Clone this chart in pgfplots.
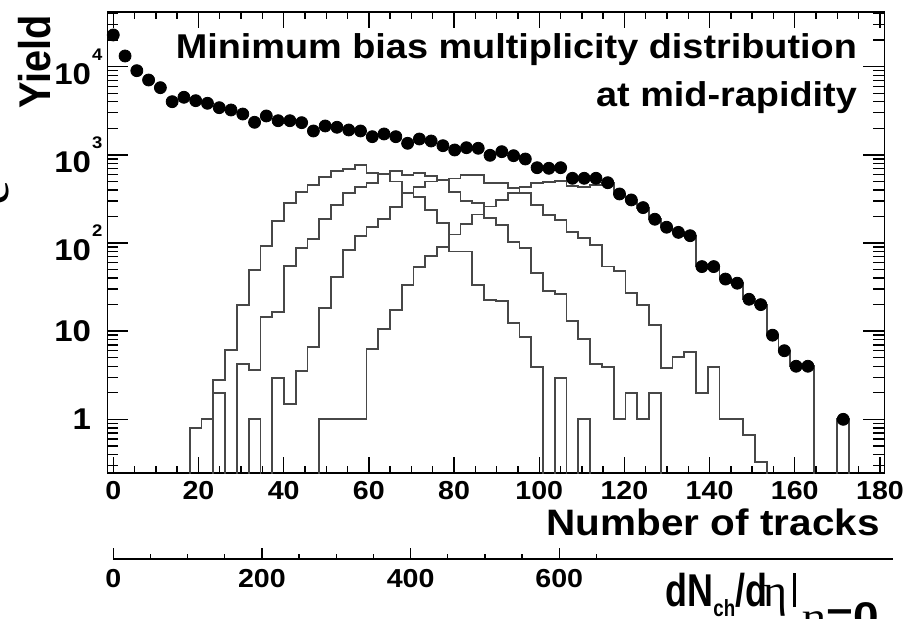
\documentclass[border=0pt]{standalone}
\usepackage{pgfplots}
\pgfplotsset{compat=1.18}
\usepackage{pgfplotstable}
\usepackage{graphicx}
\usepackage{fontspec}
\setmainfont{Liberation Sans}[FakeStretch=1.1]
\newfontfamily\plainsans{Liberation Sans}
\newfontfamily\serif{Liberation Serif}
\newcommand{\pw}[1]{10\rlap{\hspace{0.6pt}\raisebox{12.2pt}{\fontsize{8.4}{8.4}\selectfont\bfseries #1}}}

\pgfplotstableread{
k v
0 22900
1 13220
2 9010
3 7063
4 5780
5 4009
6 4497
7 4115
8 3844
9 3427
10 3228
11 2904
12 2340
13 2760
14 2440
15 2440
16 2317
17 1865
18 2125
19 2055
20 1914
21 1865
22 1607
23 1725
24 1607
25 1352
26 1513
27 1436
28 1270
29 1135
30 1205
31 1187
32 988
33 1086
34 978
35 897
36 715
37 704
38 715
39 542
40 542
41 542
42 483
43 360
44 308
45 252
46 186
47 151
48 132
49 121
50 54
51 54
52 39
53 35
54 23
55 20
56 9
57 6
58 4
59 4
62 1
}\dotdata

\pgfplotstableread{
k v
7 0.01
7 0.8
8 1.0
9 2.8
10 6.1
11 19.8
12 49.4
13 93
14 178
15 282
16 382
17 455
18 565
19 661
20 691
21 767
22 618
23 607
24 498
25 366
26 335
27 237
28 167
29 80
30 80
31 33.4
32 22.6
33 22
34 12.3
35 8.5
36 3.95
37 0.01
38 2.97
39 0.01
40 1.0
41 0.01
}\histA

\pgfplotstableread{
k v
9 0.01
9 1.97
10 0.01
11 4.24
12 3.6
13 14.6
14 16.4
15 54.8
16 87
17 110
18 187
19 270
20 366
21 435
22 476
23 607
24 656
25 591
26 618
27 575
28 519
29 382
30 300
31 285
32 191
33 160
34 103
35 87
36 46
37 28.8
38 26.4
39 13.1
40 8.1
41 4.2
42 3.95
43 1
44 1.97
45 1
46 1.97
47 0.01
}\histB

\pgfplotstableread{
k v
12 0.01
12 1.0
13 0.01
14 2.97
15 1.49
16 3.53
17 6.66
18 18.2
19 41.5
20 83
21 120
22 151
23 186
24 255
25 366
26 435
27 498
28 519
29 540
30 591
31 591
32 476
33 476
34 418
35 366
36 270
37 208
38 182
39 134
40 113
41 95
42 54
43 48.5
44 27.3
45 19.8
46 11.7
47 3.79
48 5.13
49 5.85
50 1.97
51 3.95
52 1
53 1
54 0.66
55 0.325
56 0.01
}\histC

\pgfplotstableread{
k v
18 0.01
18 1
19 1
20 1
21 1
22 6.27
23 10.5
24 17.4
25 33.4
26 52.9
27 71.3
28 90.9
29 125
30 165
31 210
32 260
33 310
34 370
35 435
36 476
37 490
38 505
39 440
40 435
41 455
42 483
43 360
44 308
45 252
46 186
47 151
48 132
49 121
50 54
51 54
52 39
53 35
54 23
55 20
56 9
57 6
58 4
59 4
60 0.01
61 0.01
62 1
63 0.01
}\histD

\begin{document}
\begin{tikzpicture}
\path[use as bounding box] (0,0) rectangle (453.5pt,-309pt);
\begin{axis}[
  at={(53.7pt,-236.5pt)}, anchor=south west,
  scale only axis, width=388.5pt, height=230.5pt,
  xmin=-1.382, xmax=181.04,
  ymode=log, ymin=0.246, ymax=41700,
  axis line style={line width=0.8pt},
  every tick/.style={black, line width=0.7pt},
  tick align=inside,
  xtick={0,20,40,60,80,100,120,140,160,180},
  xticklabels={0,20,40,60,80,100,120,140,160,180},
  minor x tick num=3,
  ytick={1,10,100,1000,10000},
  yticklabels={1,10,\pw{2},\pw{3},\pw{4}},
  minor ytick={0.3,0.4,0.5,0.6,0.7,0.8,0.9,2,3,4,5,6,7,8,9,20,30,40,50,60,70,80,90,200,300,400,500,600,700,800,900,2000,3000,4000,5000,6000,7000,8000,9000,20000,30000,40000},
  xtick style={/pgfplots/major tick length=7.8pt,/pgfplots/minor tick length=3.7pt},
  ytick style={/pgfplots/major tick length=10.5pt,/pgfplots/minor tick length=5.5pt},
  xticklabel style={font=\fontsize{13}{13}\selectfont\bfseries, anchor=north, inner sep=0pt, yshift=-4pt},
  yticklabel style={font=\fontsize{15}{15}\selectfont\bfseries, anchor=east, inner sep=0pt, xshift=-8pt},
  hist/.style={const plot, draw=black!72, line width=0.9pt, no markers},
]
\addplot[hist] table[x expr={(\thisrow{k}-0.5)*2.764}, y=v] {\histA};
\addplot[hist] table[x expr={(\thisrow{k}-0.5)*2.764}, y=v] {\histB};
\addplot[hist] table[x expr={(\thisrow{k}-0.5)*2.764}, y=v] {\histC};
\addplot[hist] table[x expr={(\thisrow{k}-0.5)*2.764}, y=v] {\histD};
\addplot[only marks, mark=*, mark size=3pt, black] table[x expr={\thisrow{k}*2.764}, y=v] {\dotdata};
\end{axis}

\begin{axis}[
  at={(56.65pt,-279.5pt)}, anchor=south west,
  scale only axis, width=389.85pt, height=10pt,
  xmin=0, xmax=1049, ymin=0, ymax=1,
  axis x line=bottom, axis y line=none,
  x axis line style={-, line width=0.7pt},
  every tick/.style={black, line width=0.7pt},
  tick align=inside,
  major tick length=5.3pt, minor tick length=2.6pt,
  xtick={0,200,400,600}, xticklabels={0,200,400,600},
  minor xtick={50,100,150,250,300,350,450,500,550,650},
  xticklabel style={font=\fontsize{13}{13}\selectfont\bfseries, anchor=north, inner sep=0pt, yshift=-5pt},
]
\end{axis}

\node[anchor=base east, inner sep=0pt, font=\fontsize{17.2}{17.2}\selectfont\bfseries] at (428.65pt,-29.15pt) {Minimum bias multiplicity distribution};
\node[anchor=base east, inner sep=0pt, font=\fontsize{17.2}{17.2}\selectfont\bfseries] at (428.65pt,-53.35pt) {at mid-rapidity};
\node[anchor=base east, inner sep=0pt, font=\fontsize{18.4}{18.4}\selectfont\bfseries] at (440pt,-267.5pt) {Number of tracks};
\node[rotate=90, anchor=base east, inner sep=0pt, font=\plainsans\bfseries\fontsize{19.85}{19.85}\selectfont] at (25pt,-7.5pt) {\scalebox{1}[1.12]{Yield}};
\node[rotate=90, anchor=base, inner sep=0pt, font=\serif\fontsize{28}{28}\selectfont] at (4.5pt,-96.5pt) {e};

\node[anchor=base west, inner sep=0pt, font=\plainsans\bfseries\fontsize{23}{23}\selectfont] at (332.5pt,-303.35pt) {\scalebox{0.78}[1]{dN}};
\node[anchor=base west, inner sep=0pt, font=\plainsans\bfseries\fontsize{11.7}{11.7}\selectfont] at (356.5pt,-308pt) {\scalebox{0.8}[1]{ch}};
\node[anchor=base west, inner sep=0pt, font=\plainsans\bfseries\fontsize{23}{23}\selectfont] at (367.5pt,-303.35pt) {\scalebox{0.78}[1]{/d}};
\node[anchor=base west, inner sep=0pt, font=\serif\fontsize{23}{23}\selectfont] at (381.5pt,-303.35pt) {η};
\node[anchor=base west, inner sep=0pt] at (396.5pt,-303.6pt) {\rule{1.4pt}{17.3pt}};
\node[anchor=base west, inner sep=0pt, font=\plainsans\bfseries\fontsize{20}{20}\selectfont] at (401pt,-315pt) {\scalebox{1.15}[1]{{\serif\mdseries η}=0}};
\end{tikzpicture}
\end{document}
